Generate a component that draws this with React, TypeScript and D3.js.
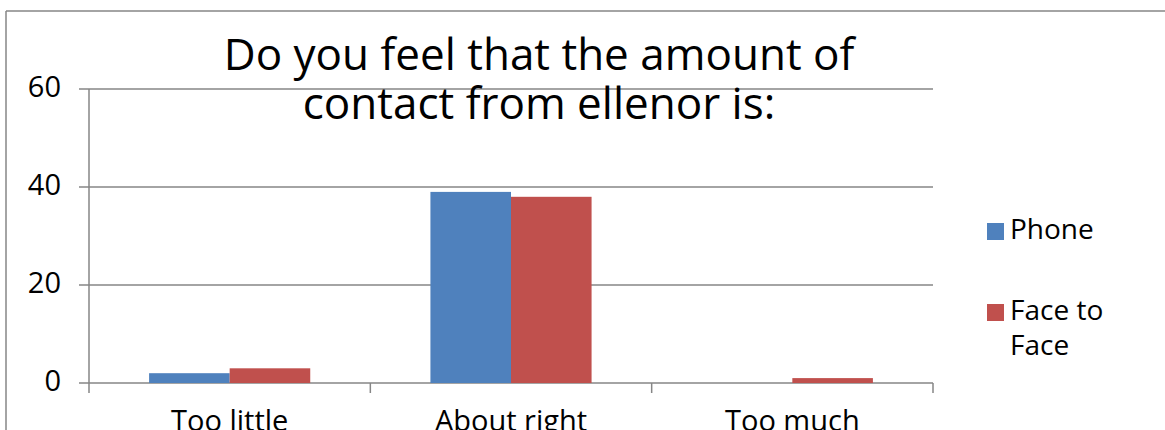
import React from "react";
import * as d3 from "d3";

const categories = ["Too little", "About right", "Too much"];
const seriesNames = ["Phone", "Face to Face"];
const phone = [2, 39, 0];
const faceToFace = [3, 38, 1];
const yTicks = [0, 20, 40, 60];
const colors = ["#4F81BD", "#C0504D"];
const titleLines = ["Do you feel that the amount of", "contact from ellenor is:"];

export default function App() {
  const W = 1165, H = 430;
  const left = 89, right = 933, top = 89, bottom = 383;
  const x = d3.scaleBand().domain(categories).range([left, right]).paddingInner(0.4272).paddingOuter(0.2136);
  const y = d3.scaleLinear().domain([0, 60]).range([bottom, top]);
  const inner = d3.scaleBand().domain(seriesNames).range([0, x.bandwidth()]);
  const step = (right - left) / categories.length;
  const series = [phone, faceToFace];
  const font = "'Open Sans', sans-serif";
  const grey = "#868686";
  return (
    <svg width={W} height={H} style={{ position: "absolute", left: 0, top: 0 }} fontFamily={font}>
      <rect x={0} y={0} width={W} height={H} fill="#fff" />
      <line x1={6} y1={11} x2={W} y2={11} stroke={grey} strokeWidth={1.5} />
      <line x1={6} y1={11} x2={6} y2={H} stroke={grey} strokeWidth={1.5} />
      {yTicks.map((t) => (
        <g key={t}>
          <line x1={79} x2={right} y1={y(t)} y2={y(t)} stroke={grey} strokeWidth={1.5} />
          <text x={61} y={y(t) + 8} textAnchor="end" fontSize={29} fill="#000">{t}</text>
        </g>
      ))}
      <line x1={left} x2={left} y1={top} y2={bottom} stroke={grey} strokeWidth={1.5} />
      {d3.range(categories.length + 1).map((i) => (
        <line key={i} x1={left + i * step} x2={left + i * step} y1={bottom} y2={bottom + 10} stroke={grey} strokeWidth={1.5} />
      ))}
      {categories.map((c, ci) => (
        <g key={c}>
          {series.map((s, si) => (
            <rect key={si} x={(x(c) as number) + (inner(seriesNames[si]) as number)} y={y(s[ci])}
              width={inner.bandwidth()} height={bottom - y(s[ci])} fill={colors[si]} />
          ))}
          <text x={(x(c) as number) + x.bandwidth() / 2} y={431} textAnchor="middle" fontSize={29} fill="#000">{c}</text>
        </g>
      ))}
      {titleLines.map((l, i) => (
        <text key={i} x={539} y={70 + i * 49} textAnchor="middle" fontSize={44} fill="#000">{l}</text>
      ))}
      <rect x={987} y={223} width={17} height={17} fill={colors[0]} />
      <text x={1010} y={239} fontSize={28} fill="#000">Phone</text>
      <rect x={987} y={304} width={17} height={17} fill={colors[1]} />
      <text x={1010} y={320} fontSize={28} fill="#000">Face to</text>
      <text x={1010} y={355} fontSize={28} fill="#000">Face</text>
    </svg>
  );
}
